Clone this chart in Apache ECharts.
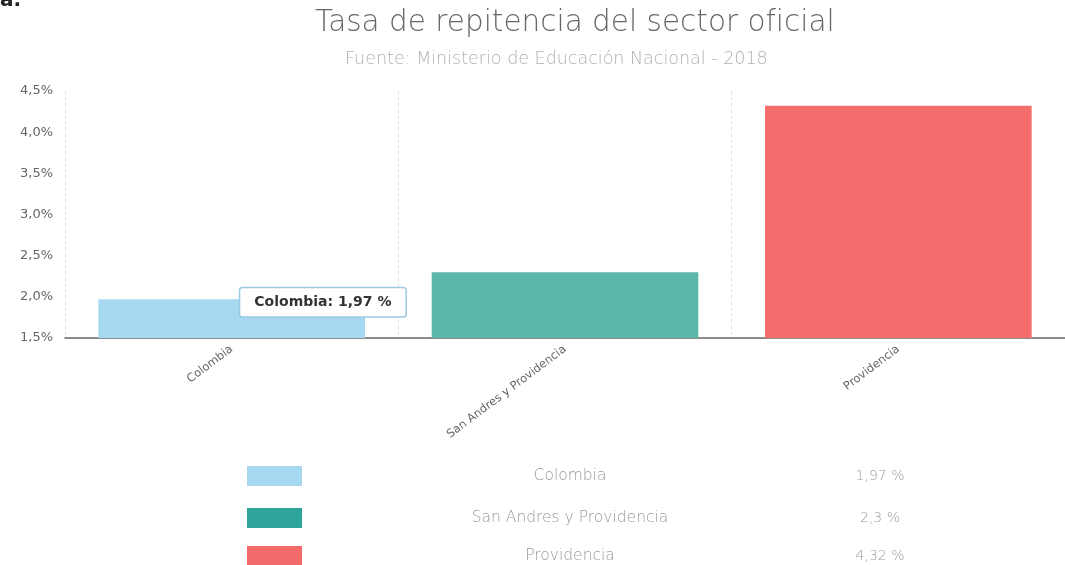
<!DOCTYPE html>
<html lang="es">
<head>
<meta charset="UTF-8">
<title>Tasa de repitencia</title>
<script src="https://cdn.jsdelivr.net/npm/echarts@6/dist/echarts.min.js"></script>
<style>
  html, body { margin: 0; padding: 0; background: #fff; }
  #main { width: 1065px; height: 565px; }
</style>
</head>
<body>
<div id="main"></div>
<script type="text/javascript">
// datos
var categorias = ['Colombia', 'San Andres y Providencia', 'Providencia'];
var valores = [1.97, 2.3, 4.32];
var coloresBarra = ['#a6d9ef', '#5db6aa', '#f56e6e'];
var coloresLeyenda = ['#a8d8f0', '#2ea59b', '#f26a6a'];
var yTicks = [1.5, 2.0, 2.5, 3.0, 3.5, 4.0, 4.5];

function fmt(v, dec) {
  return v.toFixed(dec).replace('.', ',');
}

var myChart = echarts.init(document.getElementById('main'));

// tabla de leyenda abajo
var filasY = [476, 518, 556];
var graficos = [{
  type: 'text', left: 0, top: -9,
  style: { text: 'a.', fontSize: 20, fontWeight: 'bold', fill: '#222', fontFamily: 'DejaVu Sans' }
}];
for (var i = 0; i < categorias.length; i++) {
  graficos.push({
    type: 'rect', shape: { x: 247, y: filasY[i] - 10, width: 55, height: 20 },
    style: { fill: coloresLeyenda[i] }
  });
  graficos.push({
    type: 'text', x: 570, y: filasY[i],
    style: { text: categorias[i], fill: '#9a9a9a', fontSize: 15.5, fontFamily: 'DejaVu Sans', fontWeight: 200, align: 'center', verticalAlign: 'middle' }
  });
  var dec = (i == 1) ? 1 : 2;
  graficos.push({
    type: 'text', x: 880, y: filasY[i],
    style: { text: fmt(valores[i], dec) + ' %', fill: '#9a9a9a', fontSize: 14, fontFamily: 'DejaVu Sans', fontWeight: 200, align: 'center', verticalAlign: 'middle' }
  });
}

var datos = valores.map(function (v, i) {
  var item = { value: v, itemStyle: { color: coloresBarra[i] } };
  if (i == 0) {
    item.label = {
      show: true,
      position: [142, -11],
      formatter: function (p) { return p.name + ': ' + fmt(p.value, 2) + ' %'; },
      backgroundColor: '#fff',
      borderColor: '#9cc9e3',
      borderWidth: 1.5,
      borderRadius: 2,
      padding: [7, 14],
      color: '#333',
      fontSize: 14,
      fontWeight: 'bold',
      fontFamily: 'DejaVu Sans'
    };
  }
  return item;
});

var option = {
  backgroundColor: '#fff',
  animation: false,
  title: [{
    text: 'Tasa de repitencia del sector oficial',
    left: 310,
    top: 3,
    textStyle: { fontSize: 29.5, fontWeight: 200, color: '#666', fontFamily: 'DejaVu Sans' }
  }, {
    text: 'Fuente: Ministerio de Educación Nacional - 2018',
    left: 340,
    top: 45,
    textStyle: { fontSize: 17.5, fontWeight: 200, color: '#b0b0b0', fontFamily: 'DejaVu Sans' }
  }],
  grid: { left: 65, right: -11, top: 91, height: 247, containLabel: false },
  xAxis: {
    type: 'category',
    data: categorias,
    axisLine: { lineStyle: { color: '#666', width: 1.5 } },
    axisTick: { show: false },
    axisLabel: { rotate: 37, fontSize: 11.5, color: '#666', margin: 10, fontFamily: 'DejaVu Sans' },
    splitLine: { show: true, lineStyle: { color: '#e6e6e6', type: 'dashed' } }
  },
  yAxis: {
    type: 'value',
    min: yTicks[0],
    max: yTicks[yTicks.length - 1],
    interval: 0.5,
    axisLine: { show: false },
    axisTick: { show: false },
    axisLabel: {
      fontSize: 13, color: '#666', margin: 12, fontFamily: 'DejaVu Sans',
      formatter: function (v) { return fmt(v, 1) + '%'; }
    },
    splitLine: { show: false }
  },
  series: [{
    type: 'bar',
    barWidth: '80%',
    data: datos
  }],
  graphic: graficos
};

myChart.setOption(option);
window.onresize = function () {
  myChart.resize();
};
</script>
</body>
</html>
